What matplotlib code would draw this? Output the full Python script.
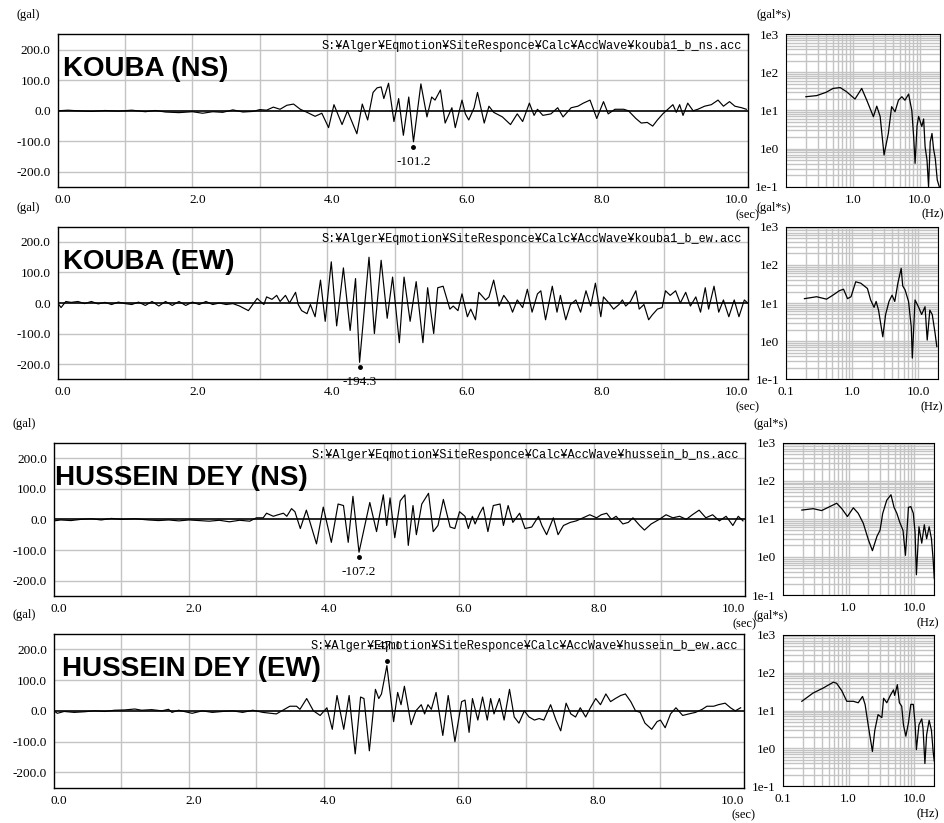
import numpy as np
import matplotlib.pyplot as plt
from matplotlib.transforms import offset_copy, ScaledTranslation
from matplotlib.ticker import NullFormatter

W, H = 945, 823

# ---- acceleration time histories (sec, gal), vertices ----
kouba_ns_t = [0.0, 0.15, 0.3, 0.5, 0.7, 0.9, 1.1, 1.3, 1.45, 1.6, 1.8, 2.0, 2.15, 2.3, 2.45, 2.6, 2.75, 2.9,
              3.0, 3.1, 3.2, 3.3, 3.4, 3.5, 3.6, 3.7, 3.82, 3.92, 4.02, 4.1, 4.22, 4.3, 4.44, 4.52, 4.6, 4.68,
              4.74, 4.8, 4.84, 4.91, 4.99, 5.06, 5.13, 5.21, 5.28, 5.39, 5.48, 5.55, 5.6, 5.68, 5.75, 5.85,
              5.9, 6.0, 6.05, 6.1, 6.18, 6.23, 6.33, 6.4, 6.47, 6.6, 6.72, 6.82, 6.9, 7.0, 7.07, 7.12, 7.2,
              7.32, 7.42, 7.5, 7.62, 7.72, 7.8, 7.9, 8.0, 8.1, 8.17, 8.27, 8.4, 8.47, 8.58, 8.66, 8.75, 8.83,
              8.9, 8.98, 9.08, 9.13, 9.18, 9.23, 9.28, 9.35, 9.43, 9.5, 9.6, 9.7, 9.8, 9.88, 9.97, 10.05,
              10.15, 10.22]
kouba_ns_a = [0, 2, 0, -2, 1, -1, 2, -3, 1, -4, -6, -3, -8, -3, -5, 3, -4, -2,
              4, 2, 12, 5, 18, 22, 5, -5, -18, -8, -55, 20, -45, 0, -75, 22, -30, 60,
              75, 78, 40, 90, -35, 40, -80, 45, -101.2, 88, -20, 45, 35, 68, -40, 10,
              -55, 35, -10, -30, 10, 60, -40, 15, -5, -20, -45, -10, -35, 25, -15, 5, -15,
              -10, 10, -20, 10, 15, 25, 35, -25, 30, -10, 5, 5, 0, -25, -40, -38, -50,
              -30, -10, 10, 20, -5, 20, -15, 25, 0, 5, 15, 20, 35, 15, 30, 15,
              10, 5]

kouba_ew_t = [0.0, 0.05, 0.12, 0.2, 0.3, 0.4, 0.5, 0.6, 0.7, 0.8, 0.9, 1.0, 1.1, 1.2, 1.3, 1.4, 1.5, 1.6,
              1.7, 1.8, 1.9, 2.0, 2.1, 2.2, 2.3, 2.4, 2.5, 2.6, 2.7, 2.83, 2.96, 3.06, 3.1, 3.18, 3.25, 3.3,
              3.38, 3.44, 3.53, 3.57, 3.62, 3.7, 3.75, 3.82, 3.9, 3.97, 4.06, 4.14, 4.24, 4.34, 4.42, 4.48,
              4.62, 4.7, 4.8, 4.89, 4.97, 5.07, 5.14, 5.23, 5.32, 5.42, 5.49, 5.58, 5.64, 5.72, 5.82, 5.87,
              5.94, 6.0, 6.08, 6.13, 6.2, 6.25, 6.35, 6.4, 6.47, 6.55, 6.62, 6.7, 6.75, 6.82, 6.9, 6.97,
              7.04, 7.12, 7.17, 7.24, 7.34, 7.41, 7.46, 7.54, 7.61, 7.69, 7.76, 7.84, 7.91, 7.98, 8.06, 8.1,
              8.18, 8.25, 8.33, 8.38, 8.43, 8.5, 8.58, 8.63, 8.7, 8.77, 8.82, 8.9, 8.97, 9.02, 9.09, 9.17,
              9.24, 9.32, 9.39, 9.47, 9.54, 9.61, 9.66, 9.74, 9.81, 9.88, 9.96, 10.04, 10.11, 10.19, 10.24]
kouba_ew_a = [0, -15, 5, 2, 5, -2, 5, -3, 2, -5, 3, -2, -5, 3, -8, 5, -10, 5,
              -8, 5, -8, 3, -5, 5, -5, 0, -5, -2, -10, -25, 15, -5, 20, 12, 25, 5,
              25, 0, 35, -5, -25, -35, -5, -45, 75, -60, 135, -75, 115, -90, 80, -194.3,
              150, -100, 140, -50, 85, -130, 85, -60, 70, -130, 50, -100, 50, 55, -20, -10,
              -25, 30, -45, -20, -55, 35, 10, 20, 75, -10, 25, 0, -30, 10, -15, 45,
              -30, 30, 40, -55, 55, -30, 25, -55, -5, 10, -30, 40, -10, 65, -45, 20,
              0, -20, -5, 10, -10, 5, 40, -20, -5, -55, -40, -20, -15, 40, 25, 40,
              0, 35, -10, 20, -30, 50, -20, 55, -30, 10, -45, 10, -45, 10, 0]

hussein_ns_t = [0.0, 0.1, 0.25, 0.4, 0.55, 0.7, 0.85, 1.0, 1.2, 1.4, 1.55, 1.7, 1.85, 2.0, 2.15, 2.3, 2.45,
                2.6, 2.75, 2.9, 3.0, 3.1, 3.15, 3.25, 3.32, 3.4, 3.45, 3.52, 3.57, 3.65, 3.74, 3.89, 3.99,
                4.11, 4.21, 4.29, 4.36, 4.43, 4.52, 4.68, 4.78, 4.88, 4.93, 4.98, 5.05, 5.13, 5.2, 5.25,
                5.32, 5.37, 5.45, 5.55, 5.62, 5.69, 5.77, 5.87, 5.94, 6.01, 6.09, 6.14, 6.2, 6.24, 6.31,
                6.36, 6.43, 6.51, 6.61, 6.66, 6.73, 6.8, 6.9, 6.98, 7.08, 7.18, 7.23, 7.3, 7.4, 7.47, 7.55,
                7.65, 7.74, 7.84, 7.94, 8.04, 8.11, 8.19, 8.26, 8.33, 8.43, 8.51, 8.58, 8.68, 8.75, 8.85,
                8.97, 9.07, 9.17, 9.27, 9.37, 9.46, 9.56, 9.66, 9.76, 9.86, 9.96, 10.06, 10.14, 10.21]
hussein_ns_a = [-5, -2, -4, 0, 2, -2, 3, 0, 2, -2, -4, -2, -5, -2, -4, -6, -3,
                -8, -3, -6, 5, 5, 20, 10, 15, 20, 10, 35, 25, -30, 30, -80, 40,
                -75, 50, 45, -75, 75, -107.2, 55, -40, 80, -20, 70, -60, 60, 80, -85,
                45, -50, 50, 85, -40, -20, 65, -25, -30, 25, 10, -30, 10, -15, 20,
                40, -40, 45, 50, -20, 45, -10, 20, -30, -25, 10, -20, -50, 5, -50, -20,
                -10, -5, 5, 15, 5, 15, 20, 0, 10, -15, -10, 5, -20, -35, -15,
                0, 15, 5, 10, 0, 15, 30, 5, 15, -5, 10, -20, 10, -5]

hussein_ew_t = [0.0, 0.05, 0.15, 0.3, 0.45, 0.6, 0.75, 0.9, 1.05, 1.2, 1.3, 1.45, 1.6, 1.7, 1.75, 1.85, 1.95,
                2.05, 2.2, 2.35, 2.5, 2.65, 2.8, 2.95, 3.1, 3.3, 3.5, 3.6, 3.65, 3.75, 3.85, 3.95, 4.05,
                4.13, 4.2, 4.3, 4.38, 4.47, 4.55, 4.6, 4.68, 4.77, 4.82, 4.86, 4.94, 5.04, 5.1, 5.15, 5.2,
                5.3, 5.37, 5.45, 5.5, 5.55, 5.6, 5.67, 5.77, 5.85, 5.95, 6.05, 6.1, 6.16, 6.21, 6.29, 6.36,
                6.43, 6.48, 6.53, 6.61, 6.68, 6.76, 6.83, 6.9, 6.98, 7.05, 7.13, 7.2, 7.27, 7.37, 7.45, 7.52,
                7.6, 7.67, 7.74, 7.81, 7.89, 7.96, 8.04, 8.11, 8.19, 8.26, 8.33, 8.41, 8.48, 8.56, 8.63, 8.7,
                8.77, 8.87, 8.95, 9.0, 9.07, 9.15, 9.23, 9.33, 9.42, 9.52, 9.62, 9.69, 9.79, 9.86, 9.96,
                10.04, 10.11, 10.19]
hussein_ew_a = [0, -8, -2, -5, -3, 0, -2, 2, 3, 6, 2, 4, 0, 5, -5, 2, -3,
                -8, 0, -5, -2, 0, -5, 2, -5, -10, 15, 15, 5, 40, 0, -15, 10,
                -60, 50, -60, 50, -140, 45, 40, -130, 70, 40, 55, 147.1, -35, 60, 20, 80,
                -45, 0, 20, -10, 20, 5, 60, -80, 50, -100, 30, 35, -70, 40, -30, 45,
                -30, 40, -10, 40, -30, 70, -20, -40, 0, -20, -30, -25, -30, 20, -30, -65,
                25, -10, -20, 10, -20, 10, 40, 20, 55, 30, 40, 50, 55, 30, 0, -5,
                -40, -60, -35, -30, -55, -10, 10, -15, -10, -5, 5, 15, 15, 20, 25,
                10, 0, 10]

# ---- Fourier spectra (Hz, gal*s) ----
kouba_ns_f = [0.2, 0.29, 0.4, 0.51, 0.65, 0.81, 1.08, 1.36, 1.62, 2.03, 2.28, 2.56, 2.93, 3.39, 3.8, 4.27,
              4.8, 5.4, 6.0, 6.8, 7.6, 8.1, 8.5, 9.1, 9.6, 10.7, 11.4, 12.0, 12.8, 13.5, 14.3, 15.2, 16.0,
              17.0, 18.2, 19.5]
kouba_ns_s = [23, 24.6, 30, 38, 40, 31, 20, 38, 18.5, 6.9, 13, 7, 0.68, 2.5, 12.6, 9.3,
              18.6, 23, 18.6, 27, 10, 2, 0.41, 4, 7, 3.8, 6, 1.1, 0.5, 0.1, 1.5, 2.5, 1,
              0.55, 0.15, 0.1]

kouba_ew_f = [0.19, 0.29, 0.41, 0.51, 0.64, 0.74, 0.85, 0.96, 1.13, 1.35, 1.7, 1.9, 2.14, 2.3, 2.5, 2.9,
              3.2, 3.6, 4.0, 4.4, 4.9, 5.5, 5.8, 6.3, 7.1, 7.8, 8.1, 8.9, 10.0, 11.2, 12.6, 13.6, 14.9,
              16.2, 17.8, 19.0]
kouba_ew_s = [13, 14.6, 12.6, 16, 21, 23, 13, 14.6, 36, 33, 24, 12, 7.7, 11, 6.5, 1.3,
              5, 11, 16, 11, 33, 81, 28, 22, 11, 2.4, 0.36, 12, 8, 5, 8, 1.07, 6.5,
              5, 1.7, 0.72]

hussein_ns_f = [0.195, 0.29, 0.39, 0.49, 0.66, 0.79, 0.96, 1.18, 1.4, 1.67, 2.0, 2.3, 2.7, 3.0, 3.3, 3.8,
                4.4, 4.9, 5.4, 6.0, 6.7, 7.3, 8.1, 8.8, 9.6, 10.2, 10.7, 11.7, 12.9, 14.1, 15.3, 16.7,
                18.1, 19.2, 20.0]
hussein_ns_s = [17, 18.5, 16.5, 20, 25.7, 18.5, 11.5, 19.5, 14, 7.7, 2.8, 1.46, 3.5, 5, 14, 31,
                43, 20, 14, 8, 5, 1.1, 20, 21, 14, 4.5, 0.34, 6.2, 2.3, 7, 3, 6.2,
                3, 0.85, 0.27]

hussein_ew_f = [0.195, 0.29, 0.41, 0.59, 0.66, 0.79, 0.94, 1.18, 1.4, 1.63, 1.78, 2.0, 2.3, 2.5, 2.8, 3.2,
                3.4, 3.8, 4.3, 4.8, 5.0, 5.5, 5.9, 6.4, 6.8, 7.4, 8.1, 8.8, 9.6, 10.2, 10.7, 11.7, 12.9,
                13.5, 14.4, 15.3, 16.7, 18.1, 19.2, 20.0]
hussein_ew_s = [17.5, 29, 39, 56, 52, 33, 17.5, 17.5, 16, 23.5, 14.5, 3.8, 0.83, 3, 7.8, 6.5,
                21, 16, 25, 35, 25, 48, 16, 13, 4.2, 2.1, 4.7, 14.5, 14.5, 4.7, 0.93, 4.2, 6,
                3.3, 0.4, 2.3, 5.5, 3, 0.83, 0.46]

names = ['KOUBA (NS)', 'KOUBA (EW)', 'HUSSEIN DEY (NS)', 'HUSSEIN DEY (EW)']
files = ['kouba1_b_ns.acc', 'kouba1_b_ew.acc', 'hussein_b_ns.acc', 'hussein_b_ew.acc']
path = 'S:\u00a5Alger\u00a5Eqmotion\u00a5SiteResponce\u00a5Calc\u00a5AccWave\u00a5'

waves = [(kouba_ns_t, kouba_ns_a), (kouba_ew_t, kouba_ew_a),
         (hussein_ns_t, hussein_ns_a), (hussein_ew_t, hussein_ew_a)]
spectra = [(kouba_ns_f, kouba_ns_s), (kouba_ew_f, kouba_ew_s),
           (hussein_ns_f, hussein_ns_s), (hussein_ew_f, hussein_ew_s)]

# pixel boxes (left, top, right, bottom)
time_boxes = [(57.7, 34.3, 747.7, 187.3), (57.7, 226.7, 747.7, 379.3),
              (54, 442.7, 745, 596), (54, 634, 744, 787.7)]
spec_boxes = [(785.7, 34.3, 940, 186.7), (786, 226.7, 938.3, 379.3),
              (782.7, 442.7, 934.3, 595), (782.7, 634.7, 934.3, 786.3)]
title_dx = [5, 5, 1, 8]
show_01 = [False, True, False, True]

GRID = '#c4c4c4'
SERIF = 'Liberation Serif'


def px_axes(fig, box):
    l, t, r, b = box
    return fig.add_axes([l / W, 1 - b / H, (r - l) / W, (b - t) / H])


def draw_time(fig, ax, t, a, name, fname, tdx):
    t = np.array(t)
    a = np.array(a)
    ax.set_xlim(0, 10.24)
    ax.set_ylim(-250, 250)
    ax.vlines(np.arange(1, 10), -250, 250, color=GRID, lw=1, zorder=0)
    ax.hlines([-200, -100, 100, 200], 0, 10.24, color=GRID, lw=1, zorder=0)
    ax.axhline(0, color='black', lw=1.2, zorder=1)
    ax.plot(t, a, color='black', lw=0.85, zorder=2)

    ax.set_xticks(np.arange(0, 11, 2))
    ax.set_xticklabels(['%.1f' % v for v in np.arange(0, 11, 2)])
    ax.set_yticks([200, 100, 0, -100, -200])
    ax.set_yticklabels(['200.0', '100.0', '0.0', '-100.0', '-200.0'])
    ax.tick_params(length=0, labelsize=9.5, pad=5)
    for lab in ax.get_xticklabels() + ax.get_yticklabels():
        lab.set_family(SERIF)
    shift = ScaledTranslation(5 / 100, 0, fig.dpi_scale_trans)
    for lab in ax.get_xticklabels():
        lab.set_transform(lab.get_transform() + shift)
    for s in ax.spines.values():
        s.set_linewidth(1.0)

    # peak
    i = np.argmax(np.abs(a))
    tp, ap = t[i], a[i]
    sg = 1 if ap > 0 else -1
    ax.plot([tp], [ap], 'o', ms=2.5, color='black', clip_on=False,
            transform=offset_copy(ax.transData, fig=fig, y=5 * sg, units='dots'))
    ax.annotate('%.1f' % ap, (tp, ap), xytext=(0, 20 * sg), textcoords='offset pixels',
                ha='center', va='center', fontsize=9.5, family=SERIF, annotation_clip=False)

    ax.annotate(name, (0, 1), xycoords='axes fraction', xytext=(tdx, -42), textcoords='offset pixels',
                fontsize=20, fontweight='bold', family='Liberation Sans', va='baseline', ha='left')
    ax.annotate(path + fname, (1, 1), xycoords='axes fraction', xytext=(-6, -12),
                textcoords='offset pixels', fontsize=8.6, family='Liberation Mono',
                ha='right', va='center')
    ax.annotate('(gal)', (0, 1), xycoords='axes fraction', xytext=(-30, 19), textcoords='offset pixels',
                fontsize=9, family=SERIF, ha='center', va='center', annotation_clip=False)
    ax.annotate('(sec)', (1, 0), xycoords='axes fraction', xytext=(0, -28), textcoords='offset pixels',
                fontsize=9, family=SERIF, ha='center', va='center', annotation_clip=False)


def draw_spec(ax, f, s, with01):
    ax.loglog(f, s, color='black', lw=0.9)
    ax.set_xlim(0.1, 20)
    ax.set_ylim(0.1, 1000)
    ax.grid(True, which='both', color=GRID, lw=1)
    ax.set_axisbelow(True)
    xt = [0.1, 1.0, 10.0] if with01 else [1.0, 10.0]
    ax.set_xticks(xt)
    ax.set_xticklabels(['%.1f' % v for v in xt])
    ax.set_yticks([0.1, 1, 10, 100, 1000])
    ax.set_yticklabels(['1e-1', '1e0', '1e1', '1e2', '1e3'])
    ax.xaxis.set_minor_formatter(NullFormatter())
    ax.yaxis.set_minor_formatter(NullFormatter())
    ax.tick_params(which='both', length=0, labelsize=9.5, pad=5)
    for lab in ax.get_xticklabels() + ax.get_yticklabels():
        lab.set_family(SERIF)
    ax.annotate('(gal*s)', (0, 1), xycoords='axes fraction', xytext=(-12, 19), textcoords='offset pixels',
                fontsize=9, family=SERIF, ha='center', va='center', annotation_clip=False)
    ax.annotate('(Hz)', (1, 0), xycoords='axes fraction', xytext=(-7, -28), textcoords='offset pixels',
                fontsize=9, family=SERIF, ha='center', va='center', annotation_clip=False)


def main():
    fig = plt.figure(figsize=(W / 100, H / 100), dpi=100)
    for k in range(4):
        ax = px_axes(fig, time_boxes[k])
        draw_time(fig, ax, waves[k][0], waves[k][1], names[k], files[k], title_dx[k])
        ax2 = px_axes(fig, spec_boxes[k])
        draw_spec(ax2, spectra[k][0], spectra[k][1], show_01[k])
    fig.savefig('out.png', dpi=100)


if __name__ == "__main__":
    main()
